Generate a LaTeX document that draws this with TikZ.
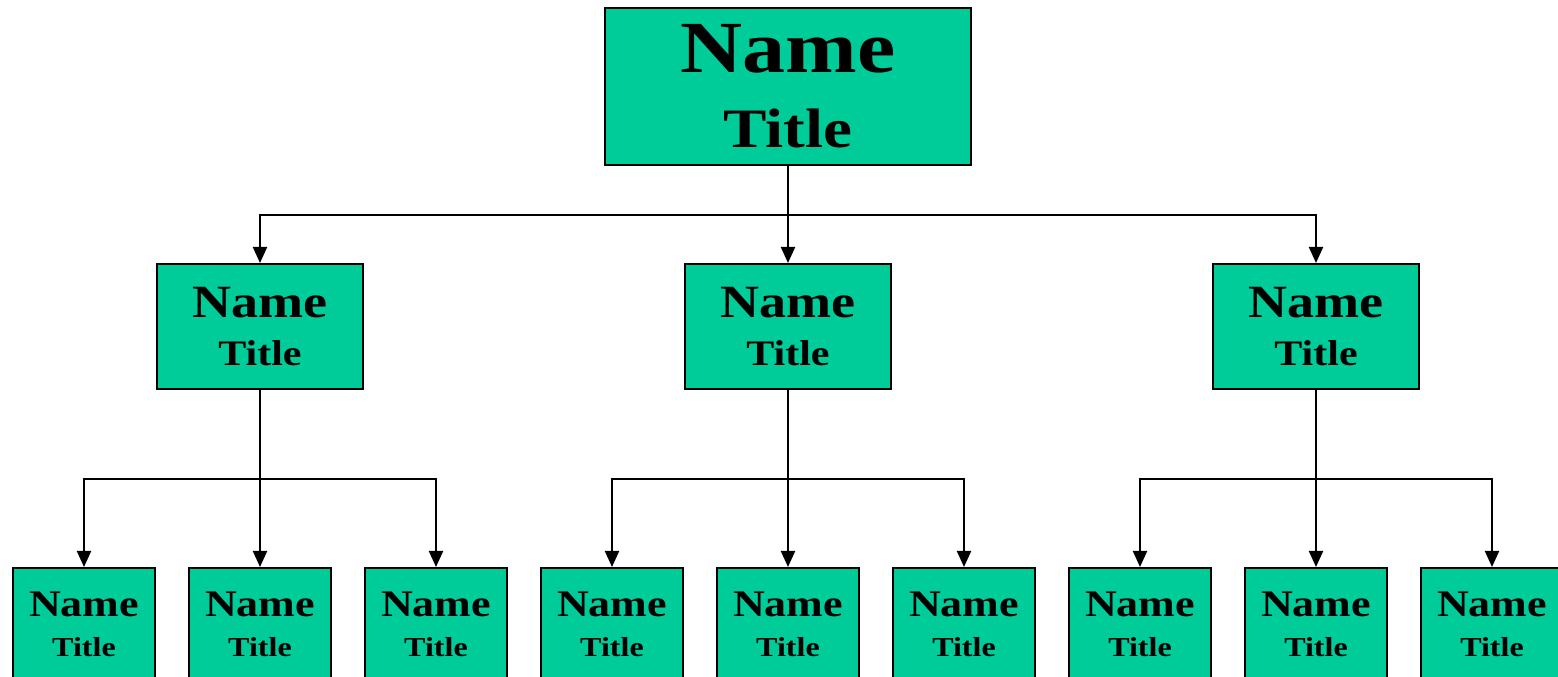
\documentclass[tikz,border=0pt]{standalone}
\usepackage{fontspec}
\setmainfont{Liberation Serif}[FakeStretch=1.17]
\usetikzlibrary{positioning, arrows.meta}
\definecolor{boxgreen}{RGB}{0,204,153}
\tikzset{
    x=1pt, y=1pt,
    box/.style={draw, fill=boxgreen, line width=2pt, align=center, inner sep=0pt},
    head/.style={box, minimum width=366pt, minimum height=157pt, font=\bfseries\fontsize{73.5}{75}\selectfont},
    mgr/.style={box, minimum width=206pt, minimum height=125pt, font=\bfseries\fontsize{46.2}{48}\selectfont},
    leaf/.style={box, minimum width=142pt, minimum height=113pt, font=\bfseries\fontsize{37.6}{40}\selectfont},
    link/.style={line width=2pt, -{Triangle[width=14pt,length=16pt]}}, % the connectors
}

\begin{document}
\begin{tikzpicture}
    \clip (0,0) rectangle (1558,677);
    % top level
    \node[head] (boss) at (788,590.5) {Name\\{\fontsize{55.6}{55.6}\selectfont Title}};
    % second level
    \node[mgr, below=97pt of boss] (mgrB) {Name\\{\fontsize{35.9}{35.9}\selectfont Title}};
    \node[mgr, left=320pt of mgrB] (mgrA) {Name\\{\fontsize{35.9}{35.9}\selectfont Title}};
    \node[mgr, right=320pt of mgrB] (mgrC) {Name\\{\fontsize{35.9}{35.9}\selectfont Title}};
    % third level
    \node[leaf, below=177pt of mgrA] (A2) {Name\\{\fontsize{27.4}{27.4}\selectfont Title}};
    \node[leaf, left=32pt of A2] (A1) {Name\\{\fontsize{27.4}{27.4}\selectfont Title}};
    \node[leaf, right=32pt of A2] (A3) {Name\\{\fontsize{27.4}{27.4}\selectfont Title}};
    \node[leaf, below=177pt of mgrB] (B2) {Name\\{\fontsize{27.4}{27.4}\selectfont Title}};
    \node[leaf, left=32pt of B2] (B1) {Name\\{\fontsize{27.4}{27.4}\selectfont Title}};
    \node[leaf, right=32pt of B2] (B3) {Name\\{\fontsize{27.4}{27.4}\selectfont Title}};
    \node[leaf, below=177pt of mgrC] (C2) {Name\\{\fontsize{27.4}{27.4}\selectfont Title}};
    \node[leaf, left=32pt of C2] (C1) {Name\\{\fontsize{27.4}{27.4}\selectfont Title}};
    \node[leaf, right=32pt of C2] (C3) {Name\\{\fontsize{27.4}{27.4}\selectfont Title}};
    % connectors
    \draw[link] (boss.south) -- ++(0,-49) -| (mgrA);
    \draw[link] (boss.south) -- (mgrB);
    \draw[link] (boss.south) -- ++(0,-49) -| (mgrC);
    \foreach \g in {A,B,C}{
        \draw[link] (mgr\g.south) -- ++(0,-89) -| (\g1);
        \draw[link] (mgr\g.south) -- (\g2);
        \draw[link] (mgr\g.south) -- ++(0,-89) -| (\g3);
    }
\end{tikzpicture}
\end{document}
